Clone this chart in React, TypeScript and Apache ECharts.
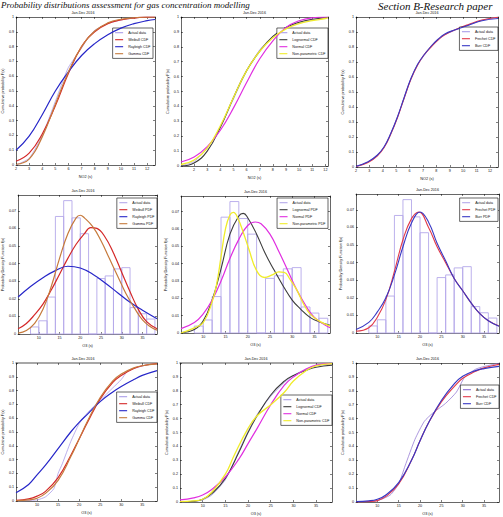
import React, { useEffect, useRef } from 'react';
import * as echarts from 'echarts';

const W = 503;
const H = 517;
const SANS = '"Liberation Sans", Arial, Helvetica, sans-serif';
const SERIF = '"Liberation Serif", "Times New Roman", serif';

// ---------- NO2 cumulative distributions ----------
const no2ActualA = [[2, 0], [3, 0.045], [4, 0.2], [5, 0.43], [5.5, 0.55], [6, 0.66], [7, 0.79], [7.5, 0.86], [8, 0.91], [9, 0.955], [10, 0.98], [11, 0.993], [12, 1], [12.6, 1]];
const no2Weibull = [[2, 0.025], [3, 0.08], [4, 0.21], [5, 0.4], [6, 0.62], [7, 0.8], [8, 0.9], [9, 0.955], [10, 0.98], [11, 0.993], [12, 0.999], [12.6, 1]];
const no2Rayleigh = [[2, 0.1], [3, 0.195], [4, 0.34], [5, 0.5], [6, 0.63], [7, 0.74], [8, 0.82], [9, 0.88], [10, 0.925], [11, 0.955], [12, 0.975], [12.6, 0.983]];
const no2Gamma = [[2, 0.005], [3, 0.04], [4, 0.19], [5, 0.41], [6, 0.63], [7, 0.8], [8, 0.905], [9, 0.96], [10, 0.985], [11, 0.995], [12, 1], [12.6, 1]];

const no2ActualB = [[1, 0], [2, 0.03], [3, 0.12], [4, 0.26], [5, 0.45], [6, 0.64], [7, 0.78], [8, 0.87], [9, 0.93], [10, 0.96], [11, 0.98], [12, 0.995], [12.2, 1]];
const no2Lognormal = [[1, 0], [2, 0.02], [3, 0.1], [4, 0.26], [5, 0.46], [6, 0.64], [7, 0.77], [8, 0.87], [9, 0.93], [10, 0.965], [11, 0.985], [12, 0.995], [12.2, 0.997]];
const no2Normal = [[1, 0.027], [2, 0.06], [3, 0.13], [4, 0.24], [5, 0.39], [6, 0.56], [7, 0.72], [8, 0.84], [9, 0.93], [10, 0.975], [11, 0.995], [12, 1], [12.2, 1]];
const no2NonParam = [[1, 0.01], [2, 0.04], [3, 0.12], [4, 0.27], [5, 0.46], [6, 0.64], [7, 0.77], [8, 0.86], [9, 0.92], [10, 0.955], [11, 0.975], [12, 0.99], [12.2, 0.995]];

const no2ActualC = [[2, 0], [2.9, 0.033], [3.6, 0.08], [4.1, 0.135], [4.6, 0.225], [5.1, 0.335], [5.6, 0.46], [6.1, 0.59], [6.6, 0.68], [7.1, 0.745], [7.6, 0.8], [8.1, 0.845], [8.6, 0.88], [9.4, 0.912], [10.4, 0.945], [11.4, 0.978], [12.6, 1]];
const no2Frechet = [[2, 0.003], [2.9, 0.03], [3.6, 0.075], [4.1, 0.13], [4.6, 0.22], [5.1, 0.33], [5.6, 0.46], [6.1, 0.585], [6.6, 0.68], [7.1, 0.75], [7.6, 0.8], [8.1, 0.845], [8.6, 0.88], [9.4, 0.915], [10.4, 0.95], [11.4, 0.98], [12.6, 0.998]];
const no2Burr = [[2, 0.005], [2.9, 0.035], [3.6, 0.08], [4.1, 0.135], [4.6, 0.225], [5.1, 0.335], [5.6, 0.465], [6.1, 0.59], [6.6, 0.685], [7.1, 0.75], [7.6, 0.805], [8.1, 0.85], [8.6, 0.885], [9.4, 0.915], [10.4, 0.945], [11.4, 0.975], [12.6, 0.99]];

// ---------- O3 histogram (bin width 2) and densities ----------
const o3BinStarts = [8, 10, 12, 14, 16, 18, 20, 22, 24, 26, 28, 30, 32, 34, 36];
const o3BinDensity = [0.004, 0.0075, 0.021, 0.0668, 0.0758, 0.066, 0.057, 0, 0.0315, 0.033, 0.037, 0.0377, 0.015, 0.0115, 0.0085];
const O3_BIN_WIDTH = 2;

const o3WeibullPdf = [[5, 0.003], [7, 0.006], [9, 0.011], [11, 0.017], [13, 0.025], [15, 0.034], [17, 0.043], [19, 0.051], [21, 0.057], [22.5, 0.0605], [24, 0.06], [26, 0.055], [28, 0.046], [30, 0.035], [32, 0.024], [34, 0.014], [36, 0.007], [38.5, 0.003]];
const o3RayleighPdf = [[5, 0.021], [8, 0.027], [11, 0.032], [14, 0.036], [17, 0.0385], [20, 0.0375], [23, 0.034], [26, 0.029], [29, 0.0235], [32, 0.018], [35, 0.0135], [38.5, 0.0087]];
const o3GammaPdf = [[5, 0.0005], [7, 0.002], [9, 0.006], [11, 0.014], [13, 0.027], [15, 0.043], [17, 0.057], [19, 0.066], [20, 0.0675], [21, 0.066], [23, 0.061], [25, 0.053], [27, 0.043], [29, 0.033], [31, 0.023], [33, 0.015], [35, 0.008], [37, 0.004], [38.5, 0.0022]];

const o3LognormalPdf = [[5, 0.0002], [8, 0.002], [10, 0.007], [12, 0.019], [14, 0.037], [16, 0.057], [18, 0.0675], [19, 0.069], [20, 0.0665], [22, 0.057], [24, 0.0455], [26, 0.036], [28, 0.027], [30, 0.019], [32, 0.0135], [34, 0.009], [36, 0.0065], [38.5, 0.0045]];
const o3NormalPdf = [[5, 0.0025], [8, 0.006], [10, 0.011], [12, 0.019], [14, 0.03], [16, 0.043], [18, 0.054], [20, 0.062], [21.7, 0.064], [23, 0.063], [25, 0.057], [27, 0.047], [29, 0.036], [31, 0.025], [33, 0.016], [35, 0.009], [38.5, 0.003]];
const o3NonParamPdf = [[5, 0], [8, 0.003], [10, 0.006], [12, 0.018], [13, 0.028], [14, 0.044], [15, 0.06], [16, 0.068], [16.8, 0.0695], [17.8, 0.066], [19, 0.058], [20.3, 0.048], [22, 0.036], [23.8, 0.032], [25.5, 0.0335], [27, 0.0352], [28.2, 0.035], [29.5, 0.031], [31, 0.025], [32.5, 0.017], [34, 0.011], [36, 0.007], [38.5, 0.004]];

const o3FrechetPdf = [[5, 0.001], [8, 0.003], [10, 0.009], [12, 0.019], [14, 0.035], [16, 0.053], [18, 0.065], [19.7, 0.0688], [22, 0.06], [24, 0.049], [26, 0.04], [28, 0.031], [30, 0.024], [32, 0.017], [34, 0.011], [36, 0.007], [38.5, 0.004]];
const o3BurrPdf = [[5, 0.002], [8, 0.006], [10, 0.012], [12, 0.02], [14, 0.033], [16, 0.049], [18, 0.0625], [20, 0.0688], [22, 0.063], [24, 0.051], [26, 0.041], [28, 0.031], [30, 0.024], [32, 0.017], [34, 0.011], [36, 0.007], [38.5, 0.0038]];

// ---------- O3 cumulative distributions ----------
const o3ActualA = [[5.4, 0], [10, 0.008], [12, 0.03], [14, 0.09], [15, 0.2], [16, 0.27], [18, 0.43], [20, 0.56], [22, 0.64], [25, 0.73], [28, 0.82], [30, 0.88], [31.5, 0.94], [34, 0.97], [36, 0.985], [38.5, 0.995]];
const o3WeibullCdf = [[5, 0.005], [8, 0.015], [10, 0.035], [12, 0.07], [15, 0.17], [18, 0.33], [20, 0.45], [22, 0.57], [25, 0.74], [28, 0.86], [30, 0.91], [33, 0.96], [35, 0.98], [38.5, 0.995]];
const o3RayleighCdf = [[5, 0.06], [8, 0.12], [10, 0.19], [12, 0.26], [15, 0.38], [18, 0.5], [20, 0.57], [22, 0.63], [25, 0.72], [28, 0.79], [30, 0.83], [33, 0.88], [35, 0.91], [38.5, 0.945]];
const o3GammaCdf = [[5, 0.001], [8, 0.008], [10, 0.02], [12, 0.055], [15, 0.15], [18, 0.32], [20, 0.45], [22, 0.58], [25, 0.75], [28, 0.87], [30, 0.92], [33, 0.965], [35, 0.98], [38.5, 0.993]];

const o3ActualB = [[5, 0], [8, 0.005], [10, 0.015], [12, 0.05], [15, 0.16], [18, 0.37], [20, 0.51], [22, 0.63], [25, 0.76], [28, 0.86], [30, 0.91], [33, 0.96], [35, 0.98], [38.5, 0.995]];
const o3LognormalCdf = [[5, 0], [8, 0.005], [10, 0.02], [12, 0.06], [15, 0.17], [18, 0.36], [20, 0.5], [22, 0.62], [25, 0.77], [28, 0.87], [30, 0.91], [33, 0.95], [35, 0.97], [38.5, 0.985]];
const o3NormalCdf = [[5, 0.015], [8, 0.03], [10, 0.05], [12, 0.09], [15, 0.18], [18, 0.31], [20, 0.42], [22, 0.53], [25, 0.7], [28, 0.84], [30, 0.9], [33, 0.96], [35, 0.985], [38.5, 0.997]];
const o3NonParamCdf = [[5, 0.003], [8, 0.008], [10, 0.02], [12, 0.07], [15, 0.2], [17, 0.34], [20, 0.53], [22, 0.62], [25, 0.7], [28, 0.79], [30, 0.87], [33, 0.95], [35, 0.98], [38.5, 0.995]];

const o3ActualC = [[5.5, 0], [10, 0.01], [13, 0.05], [15, 0.13], [16.5, 0.26], [18.8, 0.45], [21, 0.58], [23, 0.64], [26, 0.71], [28.5, 0.79], [30.5, 0.9], [33, 0.955], [35, 0.975], [38.5, 0.998]];
const o3FrechetCdf = [[5, 0], [8, 0.003], [10, 0.01], [12, 0.04], [15, 0.13], [18, 0.3], [20, 0.44], [22, 0.57], [25, 0.72], [28, 0.83], [30, 0.89], [33, 0.94], [35, 0.965], [38.5, 0.99]];
const o3BurrCdf = [[5, 0.002], [8, 0.008], [10, 0.02], [12, 0.05], [15, 0.14], [18, 0.3], [20, 0.44], [22, 0.57], [25, 0.73], [28, 0.85], [30, 0.905], [33, 0.945], [35, 0.96], [38.5, 0.976]];

const PERIOD = 'Jan-Dec 2016';
const HEADER_LEFT = 'Probability distributions assessment for gas concentration modelling';
const HEADER_RIGHT = 'Section B-Research paper';

const C = {
  actual: '#a99ce8',
  hist: '#b4a8ea',
  weibull: '#d42828',
  rayleigh: '#2626c8',
  gamma: '#c67a3c',
  lognormal: '#3c3c3c',
  normal: '#e02ee0',
  nonparam: '#f0ec2a',
  frechet: '#e23a4a',
  burr: '#3838c4',
  actualDark: '#8a6cd0',
};

type Curve = { name: string; data?: number[][]; color: string; width: number; smooth?: number; hist?: boolean };
type Panel = {
  box: { left: number; top: number; width: number; height: number };
  x: [number, number, number];
  y: [number, number, number];
  hideXMin: boolean;
  hideXMax: boolean;
  hideYMax: boolean;
  xName: string;
  yName: string;
  legendRight: number;
  legendTop: number;
  curves: Curve[];
  topLine?: { color: string; width: number };
};

const cdfY: [number, number, number] = [0, 1, 0.1];
const pdfY: [number, number, number] = [0, 0.079, 0.01];
const o3X: [number, number, number] = [5, 38.5, 5];

const panels: Panel[] = [
  {
    box: { left: 11, top: 17, width: 144, height: 148 }, x: [2, 12.6, 1], y: cdfY,
    hideXMin: false, hideXMax: true, hideYMax: false,
    xName: 'NO2 (s)', yName: 'Cumulative probability F(x)', legendRight: 350, legendTop: 28,
    curves: [
      { name: 'Actual data', data: no2ActualA, color: C.actual, width: 0.8, smooth: 0.2 },
      { name: 'Weibull CDF', data: no2Weibull, color: C.weibull, width: 1.2 },
      { name: 'Rayleigh CDF', data: no2Rayleigh, color: C.rayleigh, width: 1.2 },
      { name: 'Gamma CDF', data: no2Gamma, color: C.gamma, width: 1.2 },
    ],
  },
  {
    box: { left: 181, top: 17, width: 147, height: 149 }, x: [1, 12.2, 1], y: cdfY,
    hideXMin: true, hideXMax: true, hideYMax: false,
    xName: 'NO2 (s)', yName: 'Cumulative probability F(x)', legendRight: 175, legendTop: 28,
    curves: [
      { name: 'Actual data', data: no2ActualB, color: C.actual, width: 0.8, smooth: 0.2 },
      { name: 'Lognormal CDF', data: no2Lognormal, color: C.lognormal, width: 1.1 },
      { name: 'Normal CDF', data: no2Normal, color: C.normal, width: 1.2 },
      { name: 'Non-parametric CDF', data: no2NonParam, color: C.nonparam, width: 1.3 },
    ],
  },
  {
    box: { left: 356, top: 17, width: 142, height: 150 }, x: [2, 12.6, 1], y: cdfY,
    hideXMin: false, hideXMax: true, hideYMax: false,
    xName: 'NO2 (s)', yName: 'Cumulative probability F(x)', legendRight: 5, legendTop: 27,
    curves: [
      { name: 'Actual data', data: no2ActualC, color: C.actual, width: 0.8, smooth: 0.2 },
      { name: 'Frechet CDF', data: no2Frechet, color: C.frechet, width: 1.1 },
      { name: 'Burr CDF', data: no2Burr, color: C.burr, width: 1.1 },
    ],
  },
  {
    box: { left: 9, top: 195, width: 148, height: 139 }, x: o3X, y: pdfY,
    hideXMin: true, hideXMax: true, hideYMax: true,
    xName: 'O3 (s)', yName: 'Probability Density Function f(x)', legendRight: 346, legendTop: 198,
    curves: [
      { name: 'Actual data', color: C.hist, width: 0.9, hist: true },
      { name: 'Weibull PDF', data: o3WeibullPdf, color: C.weibull, width: 1.2 },
      { name: 'Rayleigh PDF', data: o3RayleighPdf, color: C.rayleigh, width: 1.2 },
      { name: 'Gamma PDF', data: o3GammaPdf, color: C.gamma, width: 1.2 },
    ],
  },
  {
    box: { left: 181, top: 196, width: 149, height: 137 }, x: o3X, y: pdfY,
    hideXMin: true, hideXMax: true, hideYMax: true,
    xName: 'O3 (s)', yName: 'Probability Density Function f(x)', legendRight: 175, legendTop: 198,
    curves: [
      { name: 'Actual data', color: C.hist, width: 0.9, hist: true },
      { name: 'Lognormal PDF', data: o3LognormalPdf, color: C.lognormal, width: 1.1 },
      { name: 'Normal PDF', data: o3NormalPdf, color: C.normal, width: 1.2 },
      { name: 'Non-parametric PDF', data: o3NonParamPdf, color: C.nonparam, width: 1.3 },
    ],
  },
  {
    box: { left: 356, top: 194, width: 143, height: 139 }, x: o3X, y: pdfY,
    hideXMin: true, hideXMax: true, hideYMax: true,
    xName: 'O3 (s)', yName: 'Probability Density Function f(x)', legendRight: 5, legendTop: 198,
    curves: [
      { name: 'Actual data', color: C.hist, width: 0.9, hist: true },
      { name: 'Frechet PDF', data: o3FrechetPdf, color: C.frechet, width: 1.1 },
      { name: 'Burr PDF', data: o3BurrPdf, color: C.burr, width: 1.1 },
    ],
  },
  {
    box: { left: 9, top: 363, width: 148, height: 138 }, x: o3X, y: cdfY,
    hideXMin: true, hideXMax: true, hideYMax: false,
    xName: 'O3 (s)', yName: 'Cumulative probability F(x)', legendRight: 346, legendTop: 392,
    topLine: { color: '#8a8a8a', width: 1.6 },
    curves: [
      { name: 'Actual data', data: o3ActualA, color: C.actual, width: 0.8, smooth: 0.2 },
      { name: 'Weibull CDF', data: o3WeibullCdf, color: C.weibull, width: 1.2 },
      { name: 'Rayleigh CDF', data: o3RayleighCdf, color: C.rayleigh, width: 1.2 },
      { name: 'Gamma CDF', data: o3GammaCdf, color: C.gamma, width: 1.2 },
    ],
  },
  {
    box: { left: 180, top: 363, width: 152, height: 139 }, x: o3X, y: cdfY,
    hideXMin: true, hideXMax: true, hideYMax: false,
    xName: 'O3 (s)', yName: 'Cumulative probability F(x)', legendRight: 171, legendTop: 395,
    topLine: { color: '#8a8a8a', width: 1.6 },
    curves: [
      { name: 'Actual data', data: o3ActualB, color: C.actual, width: 0.8, smooth: 0.2 },
      { name: 'Lognormal CDF', data: o3LognormalCdf, color: C.lognormal, width: 1.1 },
      { name: 'Normal CDF', data: o3NormalCdf, color: C.normal, width: 1.2 },
      { name: 'Non-parametric CDF', data: o3NonParamCdf, color: C.nonparam, width: 1.3 },
    ],
  },
  {
    box: { left: 356, top: 363, width: 143, height: 139 }, x: o3X, y: cdfY,
    hideXMin: true, hideXMax: true, hideYMax: false,
    xName: 'O3 (s)', yName: 'Cumulative probability F(x)', legendRight: 4, legendTop: 385,
    curves: [
      { name: 'Actual data', data: o3ActualC, color: C.actualDark, width: 0.7, smooth: 0.2 },
      { name: 'Frechet CDF', data: o3FrechetCdf, color: C.frechet, width: 1.1 },
      { name: 'Burr CDF', data: o3BurrCdf, color: C.burr, width: 1.2 },
    ],
  },
];

function buildOption() {
  const title: any[] = [
    {
      text: HEADER_LEFT, left: 1, top: 0, padding: 0,
      textStyle: { fontFamily: SERIF, fontStyle: 'italic', fontWeight: 'normal', fontSize: 9, color: '#111' },
    },
    {
      text: HEADER_RIGHT, left: 378, top: 0, padding: 0,
      textStyle: { fontFamily: SERIF, fontStyle: 'italic', fontWeight: 'normal', fontSize: 11, color: '#111' },
    },
  ];
  const grid: any[] = [];
  const xAxis: any[] = [];
  const yAxis: any[] = [];
  const legend: any[] = [];
  const series: any[] = [];

  const label = { fontSize: 3.7, color: '#111', fontFamily: SANS, margin: 2 };
  const tick = { show: true, inside: true, length: 2, lineStyle: { color: '#000', width: 0.5 } };
  const nameStyle = { fontSize: 3.8, color: '#111', fontFamily: SANS };

  panels.forEach((p, i) => {
    grid.push({ ...p.box, show: false });
    const line = { show: true, onZero: false, lineStyle: { color: '#000', width: 0.6 } };
    const xBase = { type: 'value', gridIndex: i, min: p.x[0], max: p.x[1], interval: p.x[2], splitLine: { show: false } };
    const yBase = { type: 'value', gridIndex: i, min: p.y[0], max: p.y[1], interval: p.y[2], splitLine: { show: false } };
    xAxis.push({
      ...xBase, position: 'bottom', axisLine: line, axisTick: tick,
      axisLabel: { ...label, showMinLabel: !p.hideXMin, showMaxLabel: !p.hideXMax },
      name: p.xName, nameLocation: 'middle', nameGap: 9.5, nameTextStyle: nameStyle,
    });
    xAxis.push({
      ...xBase, position: 'top',
      axisLine: p.topLine ? { show: true, onZero: false, lineStyle: p.topLine } : line,
      axisTick: tick, axisLabel: { show: false },
    });
    yAxis.push({
      ...yBase, position: 'left', axisLine: line, axisTick: tick,
      axisLabel: { ...label, showMaxLabel: !p.hideYMax },
      name: p.yName, nameLocation: 'middle', nameGap: 8, nameRotate: 90, nameTextStyle: nameStyle,
    });
    yAxis.push({ ...yBase, position: 'right', axisLine: line, axisTick: tick, axisLabel: { show: false } });

    title.push({
      text: PERIOD, left: p.box.left + p.box.width / 2, top: p.box.top - 6.5, textAlign: 'center', padding: 0,
      textStyle: { fontFamily: SANS, fontWeight: 'normal', fontSize: 3.7, color: '#111' },
    });

    const names: string[] = [];
    p.curves.forEach((c, k) => {
      const id = `${c.name}#${i}`;
      names.push(id);
      if (c.hist) {
        series.push({
          type: 'custom', name: id, xAxisIndex: 2 * i, yAxisIndex: 2 * i,
          color: c.color, itemStyle: { color: c.color }, z: 1,
          encode: { x: [0, 1], y: 2 },
          data: o3BinStarts.map((s, j) => [s, s + O3_BIN_WIDTH, o3BinDensity[j]]),
          renderItem: (_params: any, api: any) => {
            const p0 = api.coord([api.value(0), api.value(2)]);
            const p1 = api.coord([api.value(1), 0]);
            return {
              type: 'rect',
              shape: { x: p0[0], y: p0[1], width: p1[0] - p0[0], height: p1[1] - p0[1] },
              style: { fill: 'none', stroke: c.color, lineWidth: c.width },
            };
          },
        });
      } else {
        series.push({
          type: 'line', name: id, xAxisIndex: 2 * i, yAxisIndex: 2 * i,
          data: c.data, symbol: 'none', smooth: c.smooth ?? 0.45,
          color: c.color, lineStyle: { color: c.color, width: c.width }, z: 2 + k,
        });
      }
    });

    legend.push({
      orient: 'vertical', right: p.legendRight, top: p.legendTop,
      data: names.map((n) => ({ name: n, icon: 'rect' })),
      itemWidth: 8, itemHeight: 1.1, itemGap: 2.6,
      padding: [2.5, 2.5, 2.5, 2.5],
      borderColor: '#000', borderWidth: 0.6, backgroundColor: '#fff',
      selectedMode: false,
      formatter: (n: string) => n.split('#')[0],
      textStyle: { fontSize: 3.6, color: '#111', fontFamily: SANS, lineHeight: 4.4 },
    });
  });

  return { animation: false, backgroundColor: '#fff', title, grid, xAxis, yAxis, legend, series };
}

export default function App() {
  const ref = useRef<HTMLDivElement>(null);
  useEffect(() => {
    if (!ref.current) return;
    const chart = echarts.init(ref.current, undefined, { renderer: 'svg' });
    chart.setOption(buildOption() as any);
    return () => chart.dispose();
  }, []);
  return <div ref={ref} style={{ position: 'fixed', left: 0, top: 0, width: W, height: H }} />;
}
